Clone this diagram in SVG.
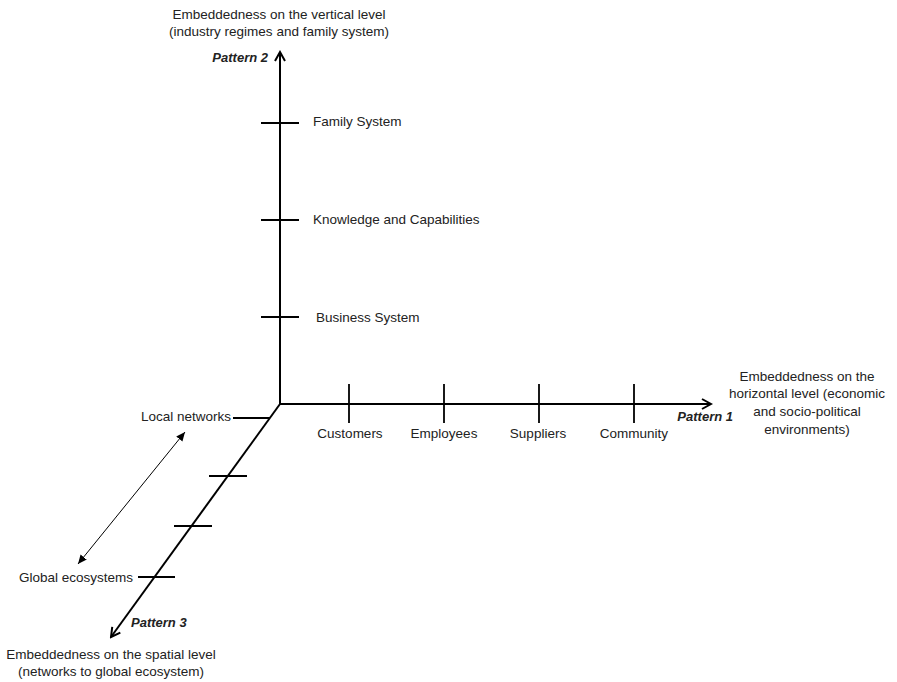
<svg xmlns="http://www.w3.org/2000/svg" width="897" height="682" viewBox="0 0 897 682">
<style>
text{font-family:"Liberation Sans",Arial,sans-serif;font-size:13.5px;fill:#222}
.b{font-weight:bold;font-style:italic;font-size:13px}
.m{text-anchor:middle}
.e{text-anchor:end}
.ax{stroke:#000;stroke-width:2;fill:none}
.tk{stroke:#000;stroke-width:1.8;fill:none}
.thin{stroke:#000;stroke-width:1;fill:none}
</style>
<defs>
<marker id="ah" markerWidth="12" markerHeight="12" refX="10" refY="6" orient="auto" markerUnits="userSpaceOnUse">
<path d="M1,1 L10,6 L1,11" fill="none" stroke="#000" stroke-width="2"/>
</marker>
<marker id="ah2" markerWidth="10" markerHeight="10" refX="9" refY="5" orient="auto-start-reverse" markerUnits="userSpaceOnUse">
<path d="M0,1 L9,5 L0,9 Z" fill="#000"/>
</marker>
</defs>
<g id="connectors">
<line class="ax" x1="280" y1="404" x2="280" y2="52" marker-end="url(#ah)"/>
<line class="ax" x1="280" y1="404" x2="711" y2="404" marker-end="url(#ah)"/>
<line class="ax" x1="280" y1="404" x2="111" y2="637" marker-end="url(#ah)"/>
<line class="thin" x1="185" y1="432" x2="78" y2="564" marker-start="url(#ah2)" marker-end="url(#ah2)"/>
</g>
<g id="ticks">
<line class="tk" x1="261" y1="123" x2="299" y2="123"/>
<line class="tk" x1="261" y1="220" x2="299" y2="220"/>
<line class="tk" x1="261" y1="317" x2="299" y2="317"/>
<line class="tk" x1="349" y1="384" x2="349" y2="423"/>
<line class="tk" x1="444" y1="384" x2="444" y2="423"/>
<line class="tk" x1="539" y1="384" x2="539" y2="423"/>
<line class="tk" x1="634" y1="384" x2="634" y2="423"/>
<line class="tk" x1="233" y1="418" x2="270" y2="418"/>
<line class="tk" x1="209" y1="476" x2="247" y2="476"/>
<line class="tk" x1="174" y1="526" x2="212" y2="526"/>
<line class="tk" x1="138" y1="577" x2="175" y2="577"/>
</g>
<g id="vertical-axis-label">
<text class="m" x="279" y="19">Embeddedness on the vertical level</text>
<text class="m" x="279" y="36">(industry regimes and family system)</text>
<text class="b e" x="268" y="62">Pattern 2</text>
</g>
<g id="family-system"><text x="313" y="126">Family System</text></g>
<g id="knowledge"><text x="313" y="224">Knowledge and Capabilities</text></g>
<g id="business-system"><text x="316" y="322">Business System</text></g>
<g id="customers"><text class="m" x="350" y="438">Customers</text></g>
<g id="employees"><text class="m" x="444" y="438">Employees</text></g>
<g id="suppliers"><text class="m" x="538" y="438">Suppliers</text></g>
<g id="community"><text class="m" x="634" y="438">Community</text></g>
<g id="horizontal-axis-label">
<text class="b e" x="733" y="421">Pattern 1</text>
<text class="m" x="807" y="381">Embeddedness on the</text>
<text class="m" x="807" y="398">horizontal level (economic</text>
<text class="m" x="807" y="416">and socio-political</text>
<text class="m" x="807" y="434">environments)</text>
</g>
<g id="local-networks"><text class="e" x="231" y="421">Local networks</text></g>
<g id="global-ecosystems"><text class="e" x="133" y="582">Global ecosystems</text></g>
<g id="spatial-axis-label">
<text class="b" x="131" y="627">Pattern 3</text>
<text class="m" x="111" y="659">Embeddedness on the spatial level</text>
<text class="m" x="111" y="676">(networks to global ecosystem)</text>
</g>
</svg>
